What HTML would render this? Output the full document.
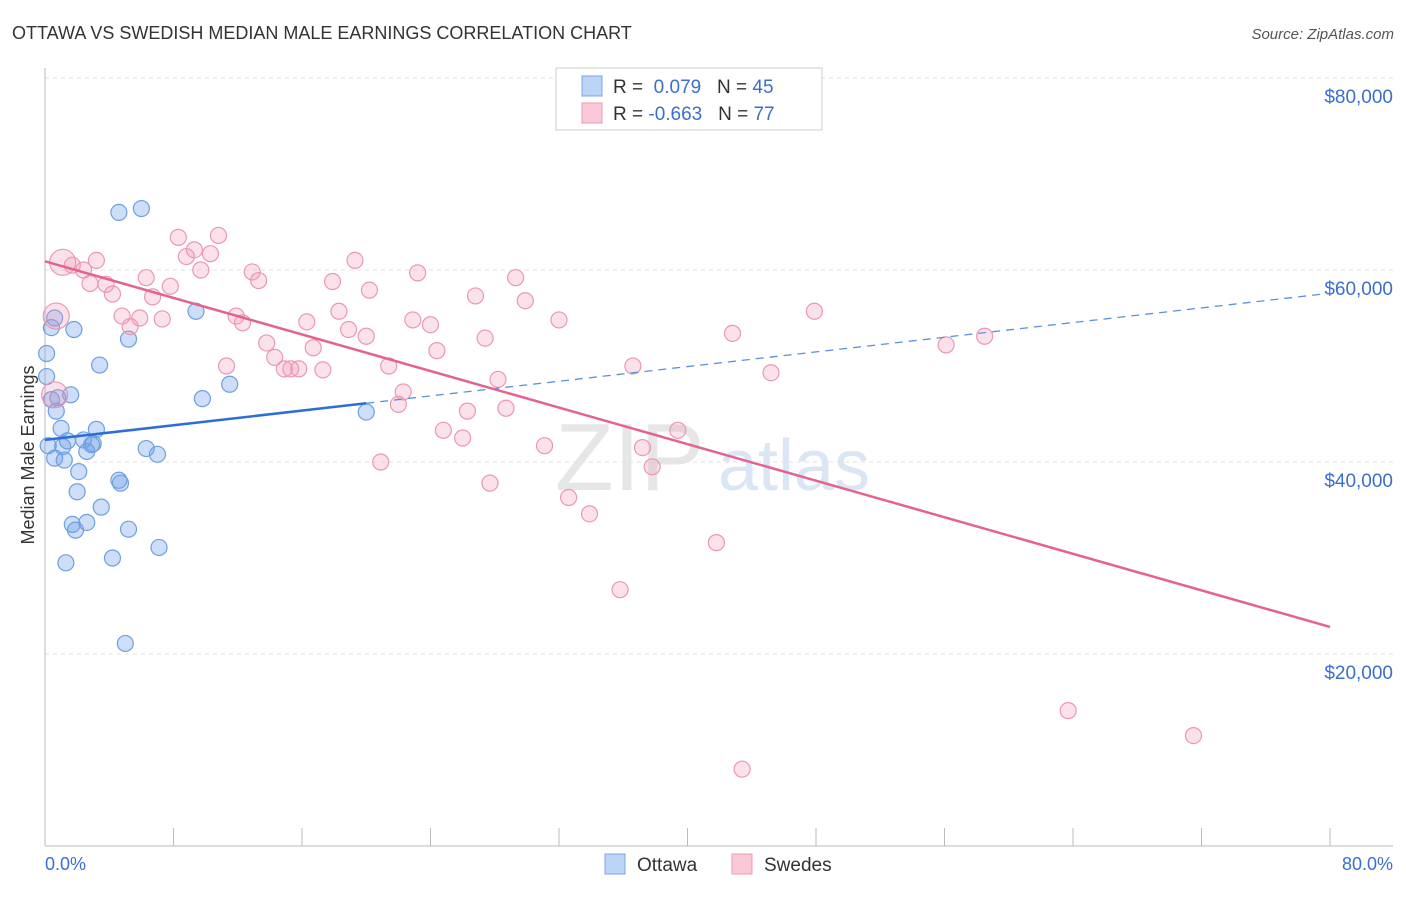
<!DOCTYPE html>
<html><head><meta charset="utf-8"><style>
body{margin:0;background:#fff;font-family:"Liberation Sans",sans-serif}
svg text{font-family:"Liberation Sans",sans-serif}
</style></head><body>
<svg id="c" width="1406" height="892">
<text x="12" y="39" font-size="18" fill="#333">OTTAWA VS SWEDISH MEDIAN MALE EARNINGS CORRELATION CHART</text>
<text x="1394" y="39" font-size="15" fill="#555" text-anchor="end" font-style="italic">Source: ZipAtlas.com</text>
<text x="555" y="490" font-size="96" fill="#e6e6e6" font-family="Liberation Serif">ZIP</text>
<text x="718" y="490" font-size="72" fill="#dbe6f5">atlas</text>
<g id="grid"></g><g id="axes"></g><g id="marks"></g>
<text transform="translate(34,455) rotate(-90)" font-size="18" fill="#333" text-anchor="middle">Median Male Earnings</text>
<text x="45" y="870" font-size="18" fill="#3a6fd0">0.0%</text>
<text x="1393" y="870" font-size="18" fill="#3a6fd0" text-anchor="end">80.0%</text>
<g>
<rect x="556" y="68" width="266" height="62" fill="#fff" stroke="#ccc"/>
<rect x="582" y="76" width="20" height="20" fill="#bcd4f5" stroke="#7aa5e6"/>
<rect x="582" y="103" width="20" height="20" fill="#f9c9d7" stroke="#ec9ab4"/>
<text x="613" y="93" font-size="19" fill="#333">R = <tspan fill="#3a6fd0">&#160;0.079</tspan>&#160;&#160;&#160;N = <tspan fill="#3a6fd0">45</tspan></text>
<text x="613" y="120" font-size="19" fill="#333">R = <tspan fill="#3a6fd0">-0.663</tspan>&#160;&#160;&#160;N = <tspan fill="#3a6fd0">77</tspan></text>
</g>
<g>
<rect x="605" y="854" width="20" height="20" fill="#bcd4f5" stroke="#7aa5e6"/>
<text x="637" y="871" font-size="19" fill="#333">Ottawa</text>
<rect x="732" y="854" width="20" height="20" fill="#f9c9d7" stroke="#ec9ab4"/>
<text x="764" y="871" font-size="19" fill="#333">Swedes</text>
</g>
</svg>
<script>
const yTicks=[20000,40000,60000,80000];
const yTickLabels=["$20,000","$40,000","$60,000","$80,000"];
const ottawaX=[4.6,6.0,9.4,0.6,1.8,0.4,5.2,0.1,3.4,0.1,11.5,1.6,0.8,9.8,0.7,20.0,1.0,3.2,1.4,2.4,3.0,1.1,0.2,2.6,6.3,7.0,0.6,1.2,2.1,4.6,4.7,2.0,3.5,1.7,2.6,1.9,5.2,7.1,4.2,1.3,5.0,2.9,0.4];
const ottawaY=[66000,66400,55700,55000,53800,54000,52800,51300,50100,48900,48100,47000,46700,46600,45300,45200,43500,43400,42200,42300,41900,41600,41700,41100,41400,40800,40400,40200,39000,38100,37800,36900,35300,33500,33700,32900,33000,31100,30000,29500,21100,41800,46500];
const swedesX=[1.1,1.7,2.4,3.2,2.8,3.8,4.2,6.3,6.7,7.8,8.3,8.8,9.3,9.7,10.3,10.8,12.9,13.3,4.8,5.3,5.9,7.3,11.9,12.3,0.7,0.6,11.3,13.8,14.3,14.9,15.3,15.8,16.3,16.7,17.3,17.9,18.3,18.9,19.3,20.0,20.2,21.4,22.0,22.3,20.9,22.9,23.2,24.0,24.4,24.8,26.0,26.3,26.8,27.4,27.7,28.2,28.7,29.3,29.9,31.1,32.0,32.6,33.9,35.8,36.6,37.2,37.8,39.4,41.8,42.8,43.4,45.2,47.9,56.1,58.5,63.7,71.5];
const swedesY=[60800,60500,60000,61000,58600,58500,57500,59200,57200,58300,63400,61400,62100,60000,61700,63600,59800,58900,55200,54100,55000,54900,55200,54500,55200,47000,50000,52400,50900,49700,49700,49700,54600,51900,49600,58800,55700,53800,61000,53100,57900,50000,46000,47300,40000,54800,59700,54300,51600,43300,42500,45300,57300,52900,37800,48600,45600,59200,56800,41700,54800,36300,34600,26700,50000,41500,39500,43300,31600,53400,8000,49300,55700,52200,53100,14100,11500];
const swedesBig=[0,24,25];
const ottawaTrend=[42300,191];
const swedesTrend=[60900,-476];
const ns="http://www.w3.org/2000/svg";
const X=v=>45+v/80*1285, Y=v=>846-v/20000*192;
function mk(tag,attrs,parent){const e=document.createElementNS(ns,tag);for(const k in attrs)e.setAttribute(k,attrs[k]);document.getElementById(parent).appendChild(e);return e;}
yTicks.forEach((t,i)=>{
 const l=mk('line',{x1:45,x2:1393,y1:Y(t),y2:Y(t),stroke:'#e2e2e2','stroke-dasharray':'4,4'},'grid');
 
 
 const tx=mk('text',{x:1393,y:Y(t)+25,'font-size':19,fill:'#3a6fd0','text-anchor':'end'},'grid');
 tx.textContent=yTickLabels[i];
 
 
});
const gl=mk('line',{x1:45,x2:1393,y1:78,y2:78,stroke:'#e2e2e2','stroke-dasharray':'4,4'},'grid');


const ax=mk('line',{x1:45,x2:1393,y1:846,y2:846,stroke:'#bbb'},'axes');


const ay=mk('line',{x1:45,x2:45,y1:68,y2:846,stroke:'#bbb'},'axes');


for(let i=1;i<=10;i++){const t=mk('line',{x1:X(i*8),x2:X(i*8),y1:828,y2:846,stroke:'#bbb'},'axes');
 
 }
ottawaX.forEach((x,i)=>{const c=mk('circle',{cx:X(x),cy:Y(ottawaY[i]),r:8,fill:'rgba(110,160,235,0.35)',stroke:'#6f9fe0','stroke-width':1.2},'marks');
 
 });
swedesX.forEach((x,i)=>{const c=mk('circle',{cx:X(x),cy:Y(swedesY[i]),r:swedesBig.includes(i)?13:8,fill:'rgba(242,150,180,0.28)',stroke:'#eb97b2','stroke-width':1.2},'marks');
 
 });
const oy=x=>ottawaTrend[0]+ottawaTrend[1]*x, sy=x=>swedesTrend[0]+swedesTrend[1]*x;
const t1=mk('line',{x1:X(0),y1:Y(oy(0)),x2:X(20),y2:Y(oy(20)),stroke:'#2e6fd6','stroke-width':2.5},'marks');


const t2=mk('line',{x1:X(20),y1:Y(oy(20)),x2:X(80),y2:Y(oy(80)),stroke:'#5b8fe0','stroke-width':1.3,'stroke-dasharray':'8,6'},'marks');


const t3=mk('line',{x1:X(0),y1:Y(sy(0)),x2:X(80),y2:Y(sy(80)),stroke:'#e4628f','stroke-width':2.5},'marks');


</script>
</body></html>
